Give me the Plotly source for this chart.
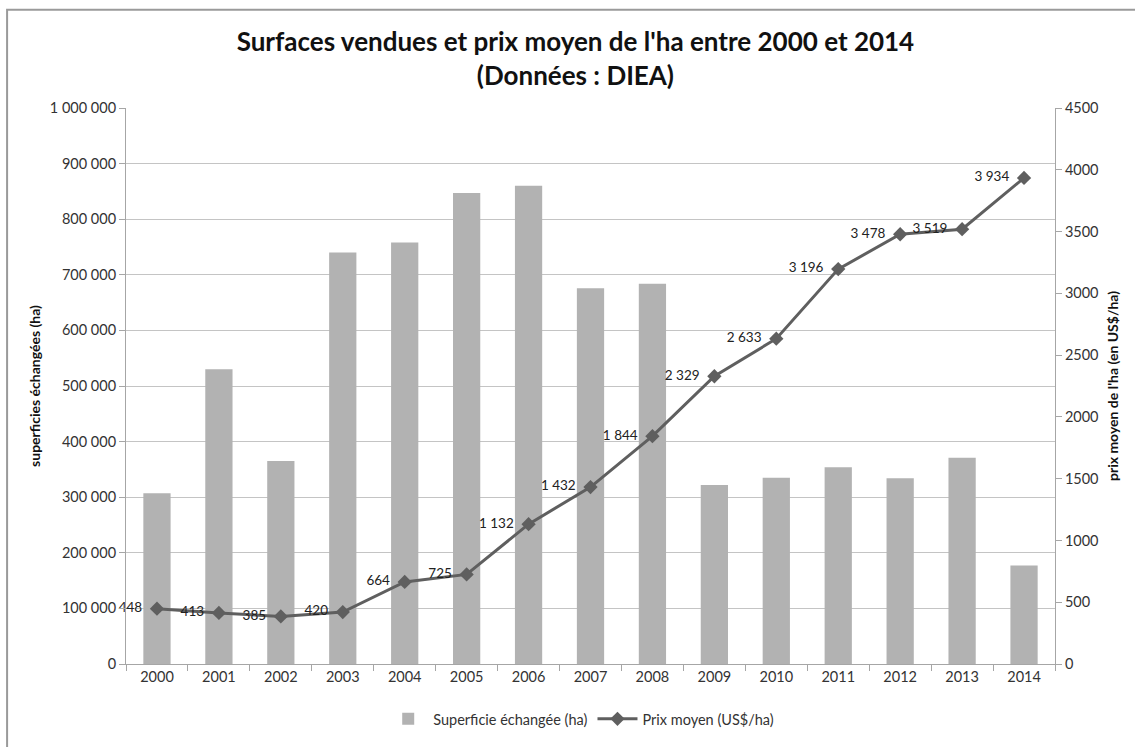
import plotly.graph_objects as go

years = [str(y) for y in range(2000, 2015)]
surface_ha = [307000, 530000, 365000, 740000, 758000, 847000, 860000, 676000,
              684000, 322000, 335000, 354000, 334000, 371000, 177000]
prix_usd_ha = [448, 413, 385, 420, 664, 725, 1132, 1432, 1844, 2329, 2633,
               3196, 3478, 3519, 3934]

prix_labels = [f"{v:,}".replace(",", " ") for v in prix_usd_ha]

FONT = "Lato, 'Open Sans', sans-serif"
AXIS_GREY = "#a6a6a6"
TICK_FONT = dict(size=14.5, color="#333333")

fig = go.Figure()
fig.add_trace(go.Bar(
    x=years, y=surface_ha, name="Superficie échangée (ha)",
    marker=dict(color="#b2b2b2", line=dict(width=0)),
    width=0.44, yaxis="y",
))
fig.add_trace(go.Scatter(
    x=years, y=prix_usd_ha, name="Prix moyen (US$/ha)",
    mode="lines+markers+text", yaxis="y2",
    line=dict(color="#5f5f5f", width=3),
    marker=dict(symbol="diamond", size=11, color="#5f5f5f"),
    text=[lbl + "  " for lbl in prix_labels], textposition="middle left",
    textfont=dict(size=13.5, color="#222222", family=FONT),
    cliponaxis=False,
))

fig.update_layout(
    width=1135, height=747,
    margin=dict(l=126, r=80, t=108, b=73),
    paper_bgcolor="white", plot_bgcolor="white",
    separators=", ",
    font=dict(family=FONT, size=14, color="#333333"),
    title=dict(
        text="<b>Surfaces vendues et prix moyen de l'ha entre 2000 et 2014<br>(Données : DIEA)</b>",
        x=0.507, xanchor="center", y=0.932, yanchor="top",
        font=dict(size=26, color="#111111", family=FONT),
    ),
    xaxis=dict(
        type="category", range=[-0.5, 14.5],
        showline=True, linecolor=AXIS_GREY, linewidth=1,
        ticks="outside", tickson="boundaries", ticklen=6, tickcolor=AXIS_GREY,
        showgrid=False, tickfont=TICK_FONT,
    ),
    yaxis=dict(
        range=[0, 1000000], dtick=100000, tickformat=",d",
        showline=True, linecolor=AXIS_GREY, ticks="outside", ticklen=6,
        tickcolor=AXIS_GREY, gridcolor="#c4c4c4", gridwidth=1,
        zeroline=False, tickfont=TICK_FONT,
        title=dict(text="<b>superficies échangées (ha)</b>",
                   font=dict(size=14, color="#111111"), standoff=5),
    ),
    yaxis2=dict(
        range=[0, 4500], dtick=500, tickformat="d", overlaying="y", side="right",
        showline=True, linecolor=AXIS_GREY, ticks="outside", ticklen=6,
        tickcolor=AXIS_GREY, showgrid=False, zeroline=False,
        tickfont=TICK_FONT,
        title=dict(text="<b>prix moyen de l'ha (en US$/ha)</b>",
                   font=dict(size=14, color="#111111"), standoff=10),
    ),
    legend=dict(
        orientation="h", x=0.49, xanchor="center", y=-0.07, yanchor="top",
        font=dict(size=14.5, color="#333333"), itemwidth=40,
        traceorder="normal",
    ),
    shapes=[dict(
        type="rect", xref="paper", yref="paper",
        x0=-0.128, x1=1.2, y0=-0.3, y1=1.1767,
        line=dict(color="#9a9a9a", width=2), fillcolor="rgba(0,0,0,0)",
        layer="below",
    )],
)

fig.write_html("out.html")
